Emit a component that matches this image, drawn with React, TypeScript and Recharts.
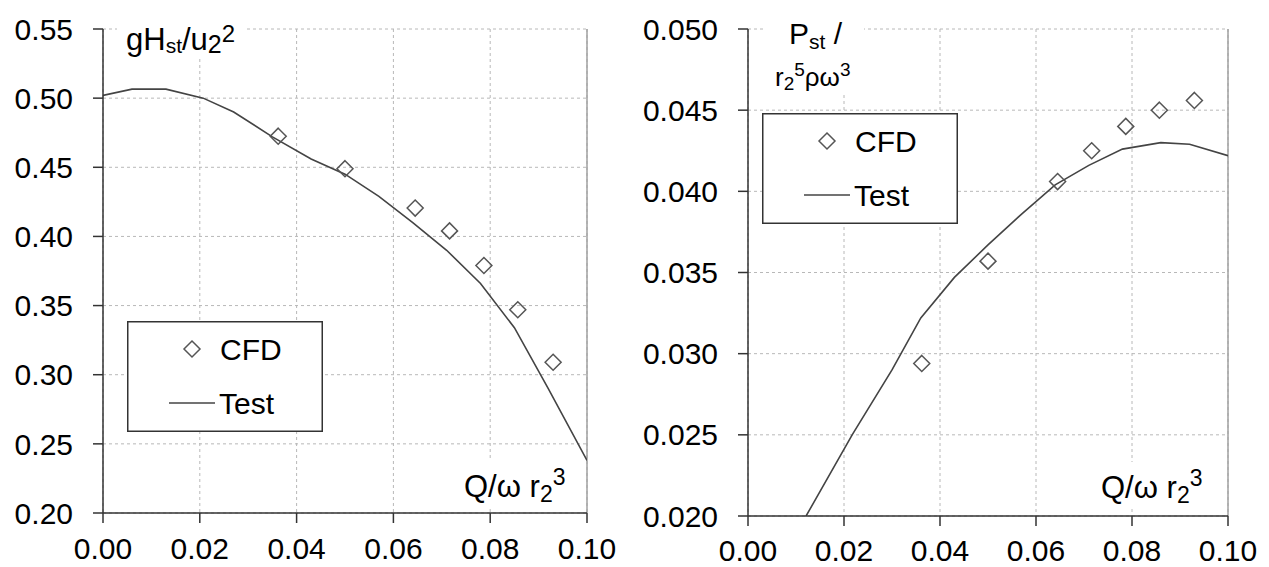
import React from "react";
import {
    ComposedChart,
    Line,
    Scatter,
    XAxis,
    YAxis,
    CartesianGrid,
    ReferenceLine,
    Legend,
} from "recharts";

// flow coefficient of the CFD runs, shared by both panels
const cfdQ = [0.0362, 0.05, 0.0645, 0.0716, 0.0787, 0.0857, 0.093];
const cfdHead = [0.4725, 0.449, 0.4205, 0.404, 0.379, 0.347, 0.309];
const cfdPower = [0.0294, 0.0357, 0.0406, 0.0425, 0.044, 0.045, 0.0456];

const testQHead = [0, 0.006, 0.013, 0.0207, 0.027, 0.035, 0.043, 0.05, 0.057, 0.064, 0.071, 0.078, 0.085, 0.092, 0.1];
const testHead = [0.502, 0.5065, 0.5065, 0.5, 0.49, 0.472, 0.456, 0.445, 0.429, 0.41, 0.39, 0.366, 0.334, 0.29, 0.238];

const testQPower = [0.0121, 0.0217, 0.03, 0.036, 0.043, 0.05, 0.057, 0.064, 0.071, 0.078, 0.086, 0.092, 0.1];
const testPower = [0.02, 0.025, 0.029, 0.0322, 0.0347, 0.0367, 0.0386, 0.0404, 0.0416, 0.0426, 0.043, 0.0429, 0.0422];

const xTicks = [0, 0.02, 0.04, 0.06, 0.08, 0.1];
const headTicks = [0.2, 0.25, 0.3, 0.35, 0.4, 0.45, 0.5, 0.55];
const powerTicks = [0.02, 0.025, 0.03, 0.035, 0.04, 0.045, 0.05];

const FONT = "'Liberation Sans', Arial, sans-serif";
const AXIS = "#333";
const GRID = "#b8b8b8";
const INK = "#444";

const headCfd = cfdQ.map((q, i) => ({ q, v: cfdHead[i] }));
const headTest = testQHead.map((q, i) => ({ q, v: testHead[i] }));
const powerCfd = cfdQ.map((q, i) => ({ q, v: cfdPower[i] }));
const powerTest = testQPower.map((q, i) => ({ q, v: testPower[i] }));

const Diamond = (props: any) => {
    const { cx, cy } = props;
    if (cx == null || cy == null) return null;
    const r = 8;
    return (
        <path
            d={`M${cx},${cy - r}L${cx + r},${cy}L${cx},${cy + r}L${cx - r},${cy}Z`}
            fill="none"
            stroke="#555"
            strokeWidth={1.5}
        />
    );
};

const LegendBox = () => (
    <svg width={196} height={111} style={{ display: "block" }}>
        <rect x={0.75} y={0.75} width={194.5} height={109.5} fill="#fff" stroke={AXIS} strokeWidth={1.5} />
        <Diamond cx={65} cy={28} />
        <text x={93} y={28} dominantBaseline="central" fontSize={30} fontFamily={FONT} fill="#000">CFD</text>
        <line x1={42} x2={88} y1={82} y2={82} stroke={INK} strokeWidth={1.5} />
        <text x={92} y={82} dominantBaseline="central" fontSize={30} fontFamily={FONT} fill="#000">Test</text>
    </svg>
);

const tickStyle = { fontSize: 30, fill: "#000", fontFamily: FONT };

type PanelProps = {
    width: number;
    yWidth: number;
    right: number;
    bottom: number;
    xMargin: number;
    domain: [number, number];
    yTicks: number[];
    digits: number;
    cfd: { q: number; v: number }[];
    test: { q: number; v: number }[];
    legendPos: { left: number; top: number };
};

const Panel = (p: PanelProps) => (
    <ComposedChart
        width={p.width}
        height={567}
        margin={{ top: 29, right: p.right, bottom: p.bottom, left: 0 }}
    >
        <CartesianGrid stroke={GRID} strokeDasharray="3 3" />
        <XAxis
            type="number"
            dataKey="q"
            domain={[0, 0.1]}
            ticks={xTicks}
            tickFormatter={(v: number) => v.toFixed(2)}
            tick={tickStyle}
            tickSize={10}
            tickMargin={p.xMargin}
            height={40}
            stroke={AXIS}
            strokeWidth={1.5}
            allowDataOverflow
        />
        <YAxis
            type="number"
            dataKey="v"
            domain={p.domain}
            ticks={p.yTicks}
            tickFormatter={(v: number) => v.toFixed(p.digits)}
            tick={tickStyle}
            tickSize={10}
            tickMargin={20}
            width={p.yWidth}
            stroke={AXIS}
            strokeWidth={1.5}
            allowDataOverflow
        />
        <ReferenceLine x={0.1} stroke="#a0a0a0" strokeWidth={1.5} />
        <Line
            data={p.test}
            dataKey="v"
            type="linear"
            stroke={INK}
            strokeWidth={1.6}
            dot={false}
            isAnimationActive={false}
        />
        <Scatter data={p.cfd} dataKey="v" shape={<Diamond />} isAnimationActive={false} />
        <Legend
            layout="vertical"
            align="center"
            verticalAlign="middle"
            content={() => <LegendBox />}
            wrapperStyle={{ left: p.legendPos.left, top: p.legendPos.top, width: 196, height: 111 }}
        />
    </ComposedChart>
);

const txt = { fontFamily: FONT, fill: "#000" };

const Labels = () => (
    <svg width={1269} height={567} style={{ position: "absolute", left: 0, top: 0, pointerEvents: "none" }}>
        {/* left y title */}
        <rect x={117} y={22} width={127} height={35} fill="#fff" />
        <text x={126} y={50} {...txt} fontSize={31}>
            gH<tspan fontSize={21} dy={3}>st</tspan>
            <tspan fontSize={31} dy={-3}>/u</tspan>
            <tspan fontSize={25} dy={3}>2</tspan>
            <tspan fontSize={24} dy={-11}>2</tspan>
        </text>
        {/* left x title */}
        <rect x={452} y={460} width={125} height={46} fill="#fff" />
        <text x={464} y={497} {...txt} fontSize={31}>
            Q/ω r<tspan fontSize={23} dy={5}>2</tspan>
            <tspan fontSize={23} dy={-17}>3</tspan>
        </text>
        {/* right y title */}
        <rect x={766} y={22} width={98} height={73} fill="#fff" />
        <text x={789} y={44} {...txt} fontSize={30}>
            P<tspan fontSize={21} dy={5}>st</tspan>
            <tspan fontSize={30} dy={-5}> /</tspan>
        </text>
        <text x={775} y={86} {...txt} fontSize={26}>
            r<tspan fontSize={19} dy={4}>2</tspan>
            <tspan fontSize={19} dy={-14}>5</tspan>
            <tspan fontSize={26} dy={10}>ρω</tspan>
            <tspan fontSize={19} dy={-10}>3</tspan>
        </text>
        {/* right x title */}
        <rect x={1092} y={462} width={120} height={46} fill="#fff" />
        <text x={1101} y={498} {...txt} fontSize={31}>
            Q/ω r<tspan fontSize={23} dy={5}>2</tspan>
            <tspan fontSize={23} dy={-17}>3</tspan>
        </text>
    </svg>
);

export default function App() {
    return (
        <div style={{ position: "absolute", left: 0, top: 0, width: 1269, height: 567, background: "#fff", overflow: "hidden" }}>
            <div style={{ position: "absolute", left: 0, top: 0 }}>
                <Panel
                    width={620}
                    yWidth={103}
                    right={33}
                    bottom={14}
                    xMargin={15}
                    domain={[0.2, 0.55]}
                    yTicks={headTicks}
                    digits={2}
                    cfd={headCfd}
                    test={headTest}
                    legendPos={{ left: 127, top: 321 }}
                />
            </div>
            <div style={{ position: "absolute", left: 640, top: 0 }}>
                <Panel
                    width={629}
                    yWidth={108}
                    right={41}
                    bottom={11}
                    xMargin={14}
                    domain={[0.02, 0.05]}
                    yTicks={powerTicks}
                    digits={3}
                    cfd={powerCfd}
                    test={powerTest}
                    legendPos={{ left: 122, top: 113 }}
                />
            </div>
            <Labels />
        </div>
    );
}
